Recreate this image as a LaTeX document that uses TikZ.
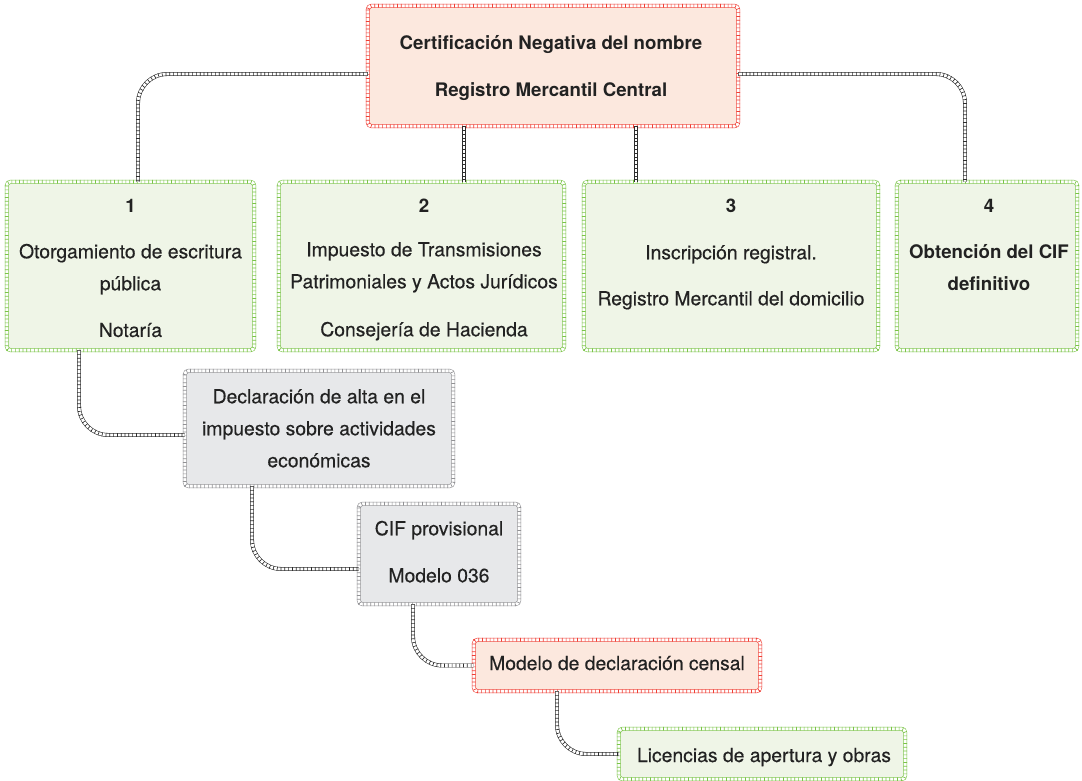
\documentclass[tikz,border=0pt]{standalone}
\usepackage{fontspec}
\setmainfont{TeX Gyre Heros}
\newfontfamily\medfont[FakeBold=0.35]{TeX Gyre Heros}
\usetikzlibrary{calc}
\definecolor{redline}{RGB}{240,62,52}
\definecolor{peach}{RGB}{252,232,222}
\definecolor{greenline}{RGB}{122,196,70}
\definecolor{greenfill}{RGB}{239,245,231}
\definecolor{grayline}{RGB}{145,145,148}
\definecolor{grayfill}{RGB}{231,232,234}
\definecolor{connc}{RGB}{45,45,45}
\definecolor{txtc}{RGB}{34,34,34}
\tikzset{
  stitch/.style={draw=#1, line width=2.9pt, dash pattern=on 0.5pt off 2.35pt,
    preaction={draw=#1, line width=0.42pt, double=white, double distance=2.1pt}},
  mw/.style={minimum width=#1*0.75pt},
  mh/.style={minimum height=#1*0.75pt},
  boxbase/.style={rectangle, rounded corners=3pt, inner sep=0pt},
  redbox/.style={boxbase, fill=peach},
  greenbox/.style={boxbase, fill=greenfill},
  graybox/.style={boxbase, fill=grayfill},
  txt/.style={font=\medfont\fontsize{14.5}{24}\selectfont, text=txtc, align=center, inner sep=0pt},
  btxt/.style={font=\fontsize{14}{24}\selectfont\bfseries, text=txtc, align=center, inner sep=0pt},
  conn/.style={stitch=connc, rounded corners=22pt},
}
\newcommand{\stitchborder}[2]{%
  \path[stitch=#2, rounded corners=3pt] (#1.north west) rectangle (#1.south east);}
\begin{document}
\begin{tikzpicture}[x=0.75pt,y=-0.75pt]
\useasboundingbox (0,0) rectangle (1082,781);
% boxes
\node[redbox, mw=370, mh=120] (top) at (553,66) {};
\node[greenbox, mw=247, mh=168] (b1) at (130.5,266) {};
\node[greenbox, mw=285, mh=168] (b2) at (421.5,266) {};
\node[greenbox, mw=294, mh=168] (b3) at (731,266) {};
\node[greenbox, mw=180, mh=168] (b4) at (987,266) {};
\node[graybox, mw=268, mh=115] (decl) at (319,428.5) {};
\node[graybox, mw=160, mh=100] (cif) at (439,554) {};
\node[redbox, mw=286, mh=51] (cens) at (617,665.5) {};
\node[greenbox, mw=286, mh=50] (lic) at (762,754) {};
\stitchborder{top}{redline}
\stitchborder{b1}{greenline}
\stitchborder{b2}{greenline}
\stitchborder{b3}{greenline}
\stitchborder{b4}{greenline}
\stitchborder{decl}{grayline}
\stitchborder{cif}{grayline}
\stitchborder{cens}{redline}
\stitchborder{lic}{greenline}
% texts
\node[btxt, anchor=north] (t0) at (551,26.6) {\strut Certificación Negativa del nombre\\[11.25pt] Registro Mercantil Central};
\node[txt, anchor=north] (t1) at (130.5,189.6) {\strut{\normalfont\fontsize{14}{24}\selectfont\bfseries 1}\\[10.5pt] Otorgamiento de escritura\\ pública\\[11pt] Notaría};
\node[txt, anchor=north] (t2) at (424,189.6) {\strut{\normalfont\fontsize{14}{24}\selectfont\bfseries 2}\\[9pt] Impuesto de Transmisiones\\ Patrimoniales y Actos Jurídicos\\[12pt] Consejería de Hacienda};
\node[txt, anchor=north] (t3) at (731,189.6) {\strut{\normalfont\fontsize{14}{24}\selectfont\bfseries 3}\\[11.25pt] Inscripción registral.\\[10.5pt] Registro Mercantil del domicilio};
\node[btxt, anchor=north] (t4) at (989,189.6) {\strut 4\\[10.5pt] Obtención del CIF\\ definitivo};
\node[txt, anchor=north] (t5) at (319,380.6) {\strut Declaración de alta en el\\ impuesto sobre actividades\\ económicas};
\node[txt, anchor=north] (t6) at (439,512.6) {\strut CIF provisional\\[11.25pt] Modelo 036};
\node[txt, anchor=base] (t7) at (617,670) {Modelo de declaración censal};
\node[txt, anchor=base] (t8) at (764,762) {Licencias de apertura y obras};
% connectors
\path[conn] ($(top.west)+(0,8)$) -| ($(b1.north)+(7.5,0)$);
\path[conn] ($(top.south)+(-89,0)$) coordinate (c2) -- (c2 |- b2.north);
\path[conn] ($(top.south)+(83,0)$) coordinate (c3) -- (c3 |- b3.north);
\path[conn] ($(top.east)+(0,8)$) -| ($(b4.north)+(-22,0)$);
\path[conn] ($(b1.south)+(-51.5,0)$) |- ($(decl.west)+(0,6.5)$);
\path[conn] ($(decl.south)+(-67,0)$) |- ($(cif.west)+(0,15)$);
\path[conn] ($(cif.south)+(-26,0)$) |- (cens.west);
\path[conn] ($(cens.south)+(-60,0)$) |- (lic.west);
\end{tikzpicture}
\end{document}
